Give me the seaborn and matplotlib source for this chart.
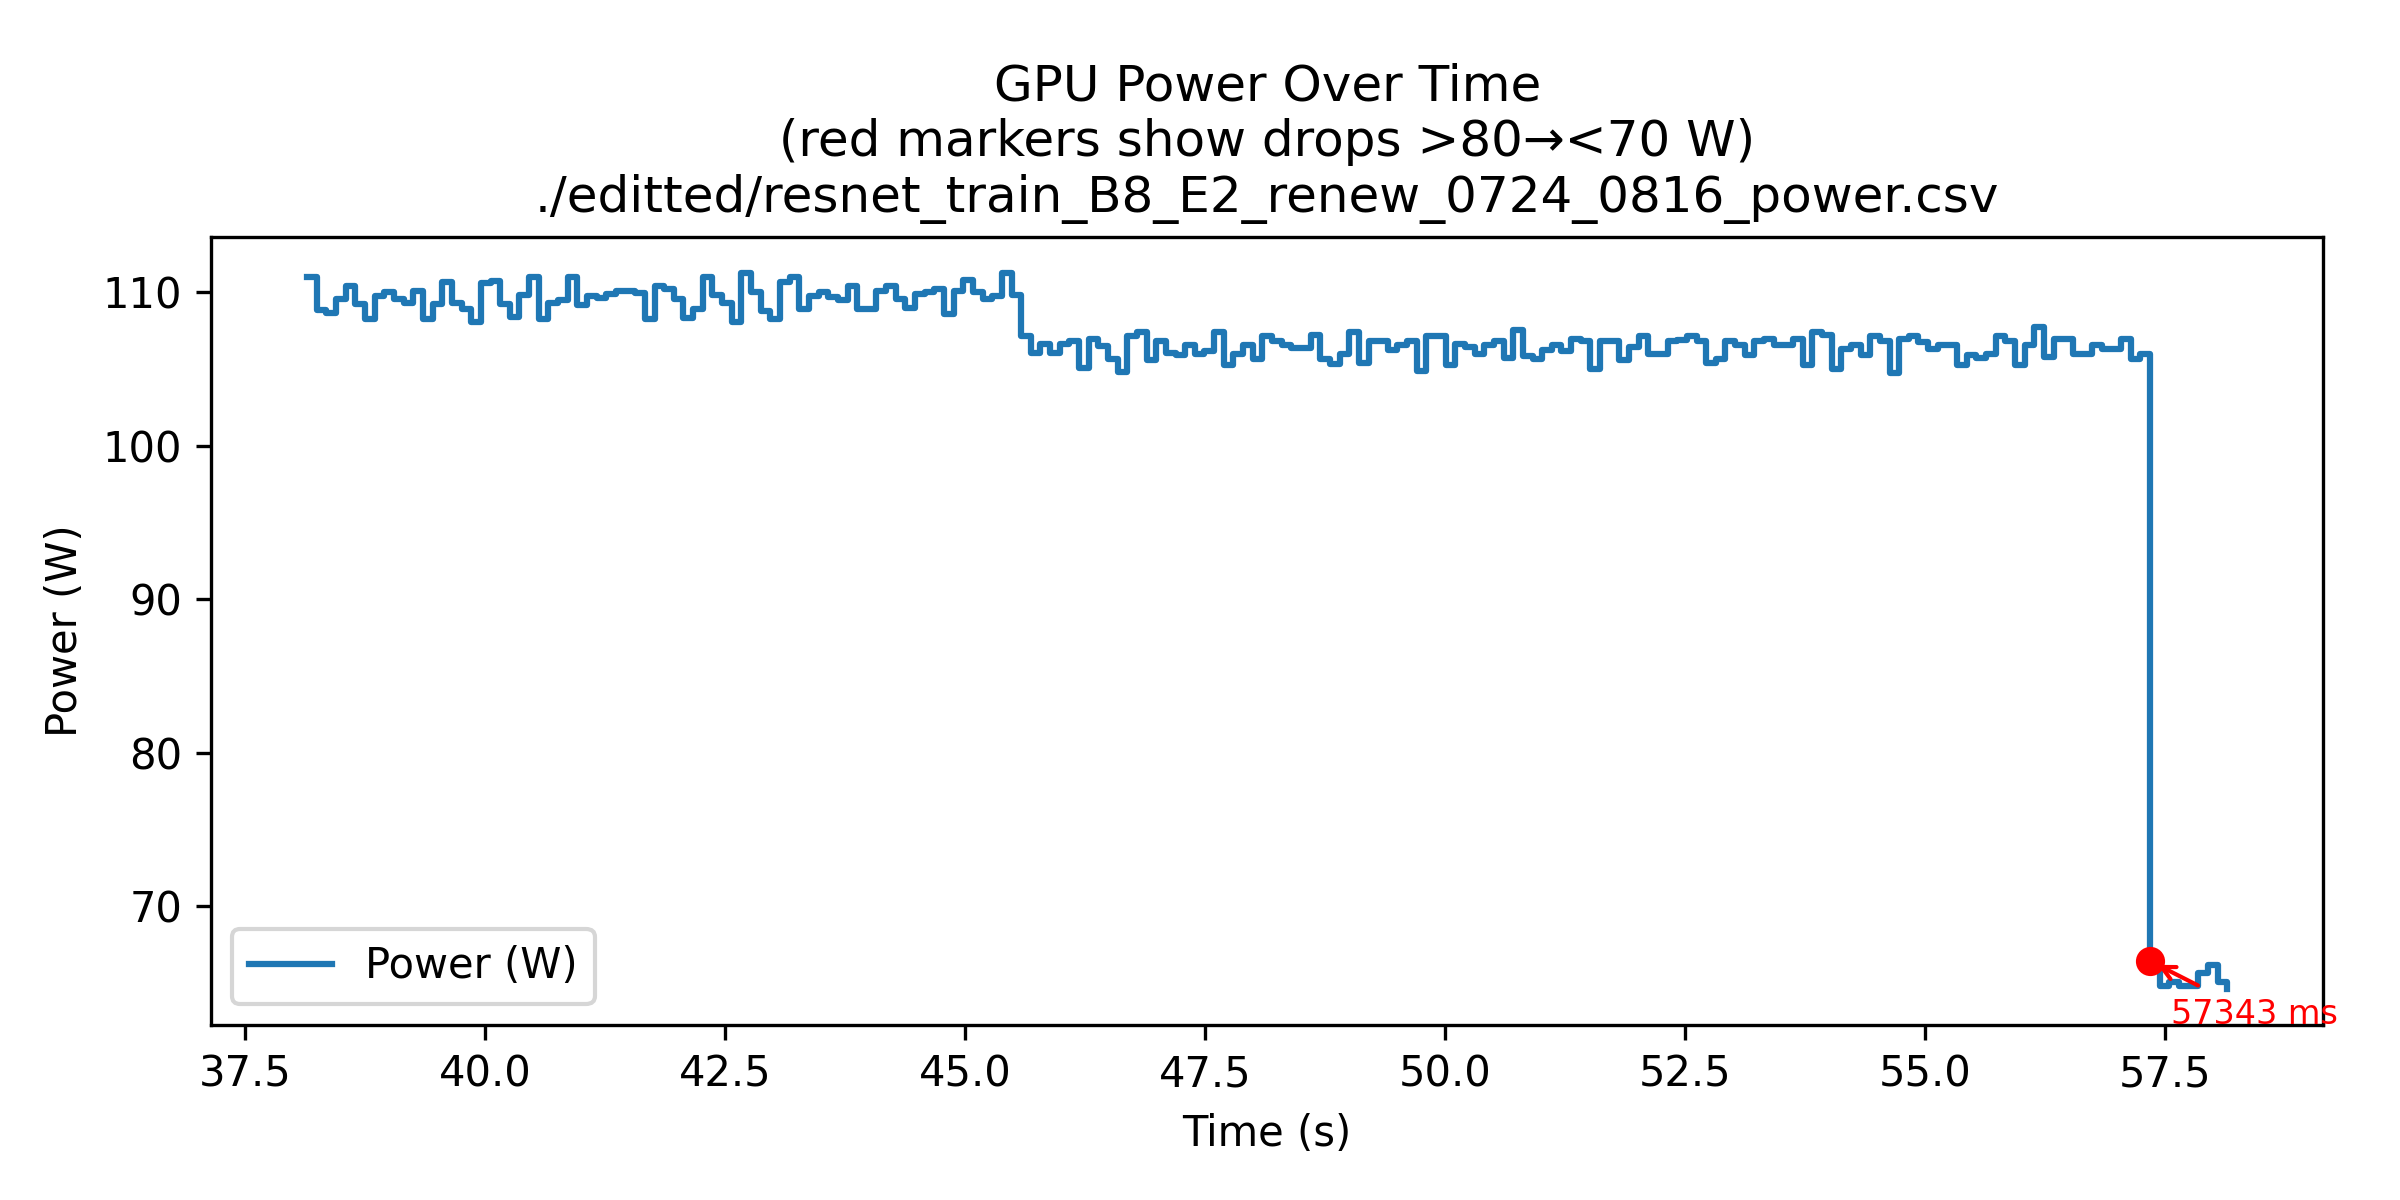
#%%
import numpy as np
import pandas as pd
import seaborn as sns
import matplotlib.pyplot as plt

#%%
# power samples (W), one every ~100 ms
power = [
    111.02, 108.85, 108.68, 109.54, 110.42, 109.24, 108.29, 109.77, 110.03, 109.59,
    109.28, 110.07, 108.24, 109.24, 110.68, 109.33, 108.94, 108.07, 110.63, 110.76,
    109.24, 108.42, 109.85, 111.02, 108.29, 109.33, 109.50, 111.02, 109.20, 109.80,
    109.63, 109.93, 110.07, 110.07, 109.98, 108.24, 110.42, 110.20, 109.54, 108.33,
    108.89, 111.02, 109.85, 109.33, 108.07, 111.24, 110.03, 108.76, 108.29, 110.68,
    111.02, 108.89, 109.80, 110.03, 109.72, 109.50, 110.42, 108.89, 108.89, 110.07,
    110.42, 109.54, 108.98, 109.89, 110.03, 110.20, 108.59, 110.07, 110.81, 110.03,
    109.59, 109.80, 111.28, 109.85, 107.16, 106.03, 106.64, 106.03, 106.64, 106.86,
    105.08, 106.94, 106.51, 105.64, 104.82, 107.16, 107.42, 105.60, 106.81, 106.03,
    105.90, 106.55, 105.99, 106.16, 107.42, 105.29, 105.99, 106.60, 105.64, 107.16,
    106.86, 106.60, 106.38, 106.38, 107.20, 105.68, 105.34, 105.99, 107.42, 105.42,
    106.86, 106.86, 106.25, 106.55, 106.81, 104.90, 107.16, 107.16, 105.29, 106.64,
    106.42, 105.99, 106.55, 106.81, 105.73, 107.55, 105.86, 105.64, 106.25, 106.60,
    106.20, 106.94, 106.81, 105.03, 106.86, 106.86, 105.60, 106.42, 107.16, 105.99,
    105.99, 106.86, 106.90, 107.16, 106.86, 105.38, 105.64, 106.86, 106.55, 105.94,
    106.81, 106.94, 106.60, 106.60, 106.94, 105.29, 107.42, 107.20, 105.03, 106.29,
    106.60, 105.90, 107.16, 106.86, 104.77, 106.94, 107.16, 106.77, 106.29, 106.60,
    106.60, 105.29, 105.94, 105.73, 105.99, 107.16, 106.86, 105.29, 106.60, 107.77,
    105.77, 106.99, 106.99, 105.99, 105.99, 106.60, 106.29, 106.29, 106.99, 105.64,
    105.99, 66.40, 64.75, 65.01, 64.75, 64.75, 65.63, 66.15, 65.06, 64.58,
]
START_MS = 38148     # first timestamp
PERIOD_MS = 100.5    # sampling period
THRES_HIGH = 80
THRES_LOW = 70
CSV_NAME = './editted/resnet_train_B8_E2_renew_0724_0816_power.csv'

#%%
df = pd.DataFrame({'power': power})
df['ms'] = START_MS + np.arange(len(df)) * PERIOD_MS
df['t'] = df['ms'] / 1000.0

# drops: previous sample above THRES_HIGH, current below THRES_LOW
drops = df[(df['power'].shift() > THRES_HIGH) & (df['power'] < THRES_LOW)]

#%%
fig, ax = plt.subplots(figsize=(8, 4), dpi=300)
sns.lineplot(x='t', y='power', data=df, ax=ax, drawstyle='steps-post',
             label='Power (W)', color='#1f77b4', linewidth=1.5)

ax.scatter(drops['t'], drops['power'], color='red', s=36, zorder=5)
for _, row in drops.iterrows():
    ax.annotate(f"{int(row['ms'])} ms", xy=(row['t'], row['power']),
                xytext=(5, -15), textcoords='offset points',
                color='red', fontsize=8,
                arrowprops=dict(arrowstyle='->', color='red'))

ax.set_xlabel('Time (s)')
ax.set_ylabel('Power (W)')
ax.set_title(f'GPU Power Over Time\n(red markers show drops >{THRES_HIGH}→<{THRES_LOW} W)\n{CSV_NAME}')
ax.legend(loc='lower left')

fig.subplots_adjust(left=0.088, right=0.968, top=0.8025, bottom=0.146)
fig.savefig('out.png', dpi=300)
